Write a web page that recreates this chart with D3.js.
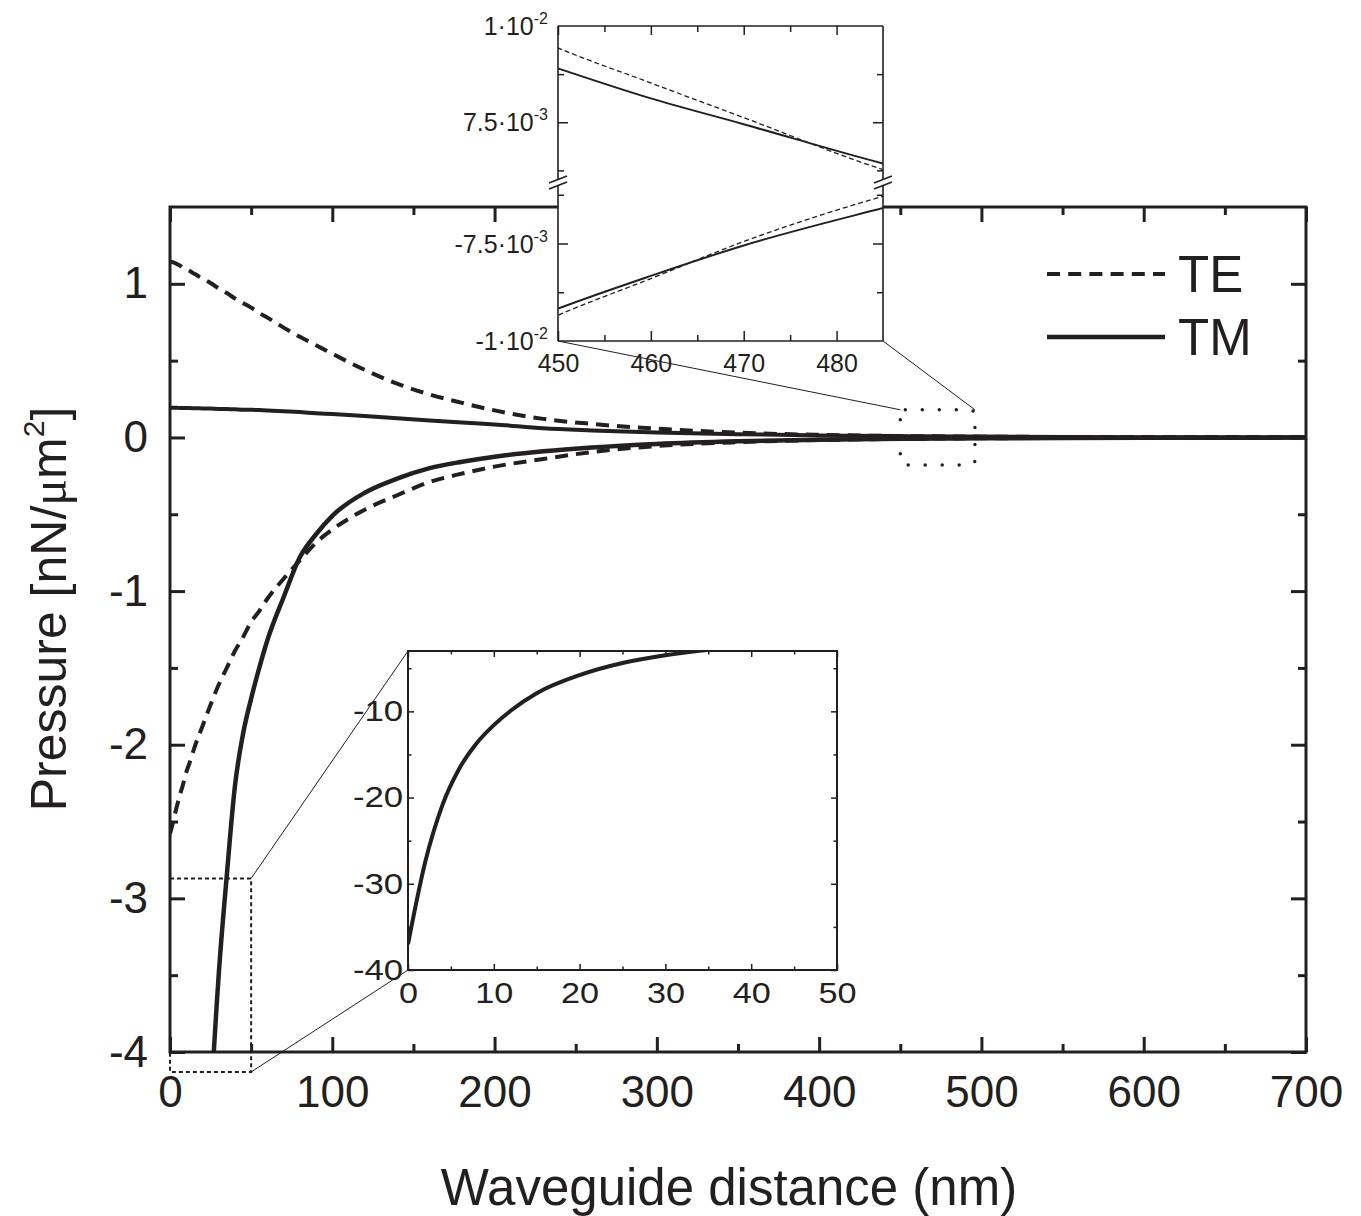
<!DOCTYPE html>
<html>
<head>
<meta charset="utf-8">
<script src="https://cdn.jsdelivr.net/npm/d3@7"></script>
<style>
    body { margin: 0; background: #fff; }
    svg { display: block; }
</style>
</head>
<body>
<svg id="chart" width="1361" height="1216"></svg>
<script>
// waveguide distance (nm) and pressure values (nN/um^2)
var distance = [0, 2, 4, 6, 8, 10, 12, 15, 20, 25, 30, 35, 40, 45, 50, 55, 60, 70, 80, 90,
    100, 120, 140, 160, 180, 200, 230, 260, 300, 350, 400, 450, 460, 470, 485, 500, 550, 600, 700];
var tePositive = [1.145, 1.14, 1.13, 1.12, 1.105, 1.095, 1.085, 1.065, 1.035, 1.005, 0.97, 0.94, 0.905, 0.875, 0.845, 0.81, 0.78, 0.715, 0.655, 0.6,
    0.545, 0.44, 0.35, 0.28, 0.225, 0.176, 0.121, 0.088, 0.057, 0.031, 0.017, 0.00943, 0.00852, 0.00762, 0.00627, 0.0053, 0.003, 0.0017, 0.0005];
var tmPositive = [0.193, 0.193, 0.193, 0.192, 0.192, 0.191, 0.191, 0.19, 0.189, 0.188, 0.186, 0.185, 0.183, 0.181, 0.18, 0.178, 0.176, 0.171, 0.165, 0.158,
    0.152, 0.139, 0.125, 0.11, 0.097, 0.085, 0.06, 0.046, 0.032, 0.021, 0.0135, 0.0089, 0.00812, 0.00745, 0.00643, 0.0056, 0.0034, 0.0021, 0.0008];
var teNegative = [-2.58, -2.5, -2.41, -2.33, -2.26, -2.18, -2.12, -2.02, -1.88, -1.74, -1.61, -1.5, -1.39, -1.3, -1.2, -1.13, -1.05, -0.92, -0.8, -0.685,
    -0.6, -0.47, -0.376, -0.29, -0.235, -0.19, -0.14, -0.095, -0.056, -0.031, -0.017, -0.00934, -0.0084, -0.00745, -0.00629, -0.0054, -0.003, -0.0017, -0.0005];
var tmNegative = [-37, -27.5, -20.9, -16.6, -13.7, -11.6, -9.9, -7.9, -5.8, -4.4, -3.5, -2.85, -2.27, -1.93, -1.7, -1.5, -1.32, -1.04, -0.78, -0.63,
    -0.51, -0.36, -0.268, -0.2, -0.158, -0.125, -0.09, -0.065, -0.042, -0.025, -0.0153, -0.00917, -0.00833, -0.00755, -0.00659, -0.0057, -0.0035, -0.0022, -0.0009];

var mainXTicks = [0, 100, 200, 300, 400, 500, 600, 700];
var mainXMinor = [50, 150, 250, 350, 450, 550, 650];
var mainYTicks = [-4, -3, -2, -1, 0, 1];
var mainYMinor = [-3.5, -2.5, -1.5, -0.5, 0.5];

var zoomXTicks = [450, 460, 470, 480];
var zoomXMinor = [455, 465, 475];
var zoomYValues = [0.01, 0.0075, -0.0075, -0.01];
var zoomYMantissa = ["1·10", "7.5·10", "-7.5·10", "-1·10"];
var zoomYExponent = ["-2", "-3", "-3", "-2"];

var nearXTicks = [0, 10, 20, 30, 40, 50];
var nearXMinor = [5, 15, 25, 35, 45];
var nearYTicks = [-40, -30, -20, -10];
var nearYMinor = [-35, -25, -15, -5];

var legendLabels = ["TE", "TM"];

var ink = "#231f20";
var font = "'Liberation Sans', Arial, Helvetica, sans-serif";
var svg = d3.select("#chart");

var rows = distance.map(function(d, i) {
    return { d: d, teP: tePositive[i], tmP: tmPositive[i], teN: teNegative[i], tmN: tmNegative[i] };
});

function clip(id, x0, y0, x1, y1) {
    svg.append("clipPath").attr("id", id).append("rect")
        .attr("x", x0).attr("y", y0).attr("width", x1 - x0).attr("height", y1 - y0);
    return "url(#" + id + ")";
}

function curve(g, xs, ys, key, width, dash) {
    var line = d3.line().x(function(r) { return xs(r.d); }).y(function(r) { return ys(r[key]); })
        .curve(d3.curveMonotoneX);
    return g.append("path").datum(rows).attr("d", line)
        .attr("fill", "none").attr("stroke", ink).attr("stroke-width", width)
        .attr("stroke-dasharray", dash || null);
}

// inward ticks; labels only when a format is given
function ticks(g, axis, pos, values, size, width, fmt, fontSize, pad) {
    var a = g.append("g").attr("transform", pos).attr("color", ink)
        .call(axis.tickValues(values).tickSize(-size).tickSizeOuter(0)
            .tickPadding(pad || 0).tickFormat(fmt || ""));
    a.select(".domain").remove();
    a.selectAll(".tick line").attr("stroke-width", width);
    a.selectAll(".tick text").attr("font-size", fontSize || 10).attr("font-family", font).attr("fill", ink);
    return a;
}

function connector(x1, y1, x2, y2) {
    svg.append("line").attr("x1", x1).attr("y1", y1).attr("x2", x2).attr("y2", y2)
        .attr("stroke", ink).attr("stroke-width", 1);
}

// ---------- main plot ----------
var x = d3.scaleLinear().domain([0, 700]).range([170, 1306]);
var y = d3.scaleLinear().domain([-4, 1.5]).range([1052, 207]);
var L = x.range()[0], R = x.range()[1], B = y.range()[0], T = y.range()[1];

var main = svg.append("g").attr("clip-path", clip("clipMain", L, T, R, B));
curve(main, x, y, "teP", 4, "13,8");
curve(main, x, y, "teN", 4, "13,8");
curve(main, x, y, "tmP", 4);
curve(main, x, y, "tmN", 4.5);

// zoom markers
var nearBox = { x0: x(0), x1: x(50), y0: y(-2.87), y1: y(-4.13) };
svg.append("rect").attr("x", nearBox.x0).attr("y", nearBox.y0)
    .attr("width", nearBox.x1 - nearBox.x0).attr("height", nearBox.y1 - nearBox.y0)
    .attr("fill", "none").attr("stroke", ink).attr("stroke-width", 2).attr("stroke-dasharray", "4,3");

var farBox = { x0: x(450), x1: x(496), y0: y(0.18), y1: y(-0.18) };
svg.append("rect").attr("x", farBox.x0).attr("y", farBox.y0)
    .attr("width", farBox.x1 - farBox.x0).attr("height", farBox.y1 - farBox.y0)
    .attr("rx", 5)
    .attr("fill", "none").attr("stroke", ink).attr("stroke-width", 3.5)
    .attr("stroke-linecap", "round").attr("stroke-dasharray", "0,17");

ticks(svg, d3.axisBottom(x), "translate(0," + B + ")", mainXTicks, 15, 3, function(d) { return String(d); }, 44, 24);
ticks(svg, d3.axisBottom(x), "translate(0," + B + ")", mainXMinor, 8, 3);
ticks(svg, d3.axisTop(x), "translate(0," + T + ")", mainXTicks, 15, 3);
ticks(svg, d3.axisTop(x), "translate(0," + T + ")", mainXMinor, 8, 3);
ticks(svg, d3.axisLeft(y), "translate(" + L + ",0)", mainYTicks, 15, 3, function(d) { return String(d); }, 44, 22);
ticks(svg, d3.axisLeft(y), "translate(" + L + ",0)", mainYMinor, 8, 3);
ticks(svg, d3.axisRight(y), "translate(" + R + ",0)", mainYTicks, 15, 3);
ticks(svg, d3.axisRight(y), "translate(" + R + ",0)", mainYMinor, 8, 3);

svg.append("rect").attr("x", L).attr("y", T).attr("width", R - L).attr("height", B - T)
    .attr("fill", "none").attr("stroke", ink).attr("stroke-width", 3);

svg.append("text").attr("x", 729).attr("y", 1205).attr("text-anchor", "middle")
    .attr("font-family", font).attr("font-size", 51).attr("fill", ink)
    .text("Waveguide distance (nm)");

var yTitle = svg.append("text").attr("transform", "translate(66,609) rotate(-90)")
    .attr("text-anchor", "middle").attr("font-family", font).attr("font-size", 50).attr("fill", ink);
yTitle.append("tspan").text("Pressure [nN/");
yTitle.append("tspan").attr("font-family", "'Liberation Serif', 'DejaVu Serif', serif").text("μ");
yTitle.append("tspan").text("m");
yTitle.append("tspan").attr("font-size", 30).attr("dy", -22).text("2");
yTitle.append("tspan").attr("dy", 22).text("]");

// legend
var legendY = d3.scalePoint().domain(legendLabels).range([274, 337]);
var legend = svg.append("g");
legendLabels.forEach(function(lbl, i) {
    legend.append("line").attr("x1", 1047).attr("x2", 1165)
        .attr("y1", legendY(lbl)).attr("y2", legendY(lbl))
        .attr("stroke", ink).attr("stroke-width", i === 0 ? 4 : 4.5)
        .attr("stroke-dasharray", i === 0 ? "13,8.2" : null);
    legend.append("text").attr("x", 1178).attr("y", legendY(lbl) + 18)
        .attr("font-family", font).attr("font-size", 51).attr("fill", ink).text(lbl);
});

// ---------- upper inset: 450-485 nm, broken y axis ----------
var tx = d3.scaleLinear().domain([450, 485]).range([558, 883]);
var tyUp = d3.scaleLinear().domain([0.006, 0.01]).range([180, 26]);
var tyLo = d3.scaleLinear().domain([-0.01, -0.006]).range([341, 185]);
var tL = tx.range()[0], tR = tx.range()[1], tT = tyUp.range()[1], tB = tyLo.range()[0];
var brkA = tyUp.range()[0], brkB = tyLo.range()[1];

connector(tL, tB, farBox.x0, farBox.y0);
connector(tR, tB, farBox.x1, farBox.y0);

svg.append("rect").attr("x", tL).attr("y", tT).attr("width", tR - tL).attr("height", tB - tT).attr("fill", "#fff");

var up = svg.append("g").attr("clip-path", clip("clipUp", tL, tT, tR, brkA));
curve(up, tx, tyUp, "teP", 1.3, "5,3");
curve(up, tx, tyUp, "tmP", 2);
var lo = svg.append("g").attr("clip-path", clip("clipLo", tL, brkB, tR, tB));
curve(lo, tx, tyLo, "teN", 1.3, "5,3");
curve(lo, tx, tyLo, "tmN", 2);

ticks(svg, d3.axisBottom(tx), "translate(0," + tB + ")", zoomXTicks, 10, 1.5, function(d) { return String(d); }, 25, 13);
ticks(svg, d3.axisBottom(tx), "translate(0," + tB + ")", zoomXMinor, 6, 1.5);
ticks(svg, d3.axisTop(tx), "translate(0," + tT + ")", zoomXTicks, 9, 1.5);
ticks(svg, d3.axisTop(tx), "translate(0," + tT + ")", zoomXMinor, 6, 1.5);
[[d3.axisLeft, tL], [d3.axisRight, tR]].forEach(function(side) {
    ticks(svg, side[0](tyUp), "translate(" + side[1] + ",0)", [0.0075], 10, 1.5);
    ticks(svg, side[0](tyUp), "translate(" + side[1] + ",0)", [0.00875, 0.00625], 6, 1.5);
    ticks(svg, side[0](tyLo), "translate(" + side[1] + ",0)", [-0.0075], 10, 1.5);
    ticks(svg, side[0](tyLo), "translate(" + side[1] + ",0)", [-0.00875, -0.00625], 6, 1.5);
});

var frame = svg.append("g").attr("stroke", ink).attr("stroke-width", 1.6).attr("fill", "none");
frame.append("line").attr("x1", tL).attr("x2", tR).attr("y1", tT).attr("y2", tT);
frame.append("line").attr("x1", tL).attr("x2", tR).attr("y1", tB).attr("y2", tB);
[tL, tR].forEach(function(xx) {
    frame.append("line").attr("x1", xx).attr("x2", xx).attr("y1", tT).attr("y2", brkA - 1);
    frame.append("line").attr("x1", xx).attr("x2", xx).attr("y1", brkB + 1).attr("y2", tB);
    frame.append("line").attr("x1", xx - 9).attr("y1", brkA + 3).attr("x2", xx + 9).attr("y2", brkA - 4);
    frame.append("line").attr("x1", xx - 9).attr("y1", brkB + 4).attr("x2", xx + 9).attr("y2", brkB - 3);
});

zoomYValues.forEach(function(v, i) {
    var ys = v > 0 ? tyUp : tyLo;
    var t = svg.append("text").attr("x", tL - 10).attr("y", ys(v)).attr("dy", "0.36em")
        .attr("text-anchor", "end").attr("font-family", font).attr("font-size", 25).attr("fill", ink);
    t.append("tspan").text(zoomYMantissa[i]);
    t.append("tspan").attr("font-size", 16).attr("dy", -11).text(zoomYExponent[i]);
});

// ---------- lower inset: 0-50 nm ----------
var bx = d3.scaleLinear().domain([0, 50]).range([408, 837]);
var by = d3.scaleLinear().domain([-40, -3]).range([970, 651]);
var bL = bx.range()[0], bR = bx.range()[1], bT = by.range()[1], bB = by.range()[0];

connector(bL, bT, nearBox.x1, nearBox.y0);
connector(bL, bB, nearBox.x1, nearBox.y1);

svg.append("rect").attr("x", bL).attr("y", bT).attr("width", bR - bL).attr("height", bB - bT).attr("fill", "#fff");
var near = svg.append("g").attr("clip-path", clip("clipNear", bL, bT, bR, bB));
curve(near, bx, by, "tmN", 4);

// the inset labels in the figure are set wider than the font
ticks(svg, d3.axisBottom(bx), "translate(0," + bB + ")", nearXTicks, 6, 1.5, function(d) { return String(d); }, 29, 12)
    .selectAll(".tick text").attr("transform", "scale(1.18,1)");
ticks(svg, d3.axisBottom(bx), "translate(0," + bB + ")", nearXMinor, 3.5, 1.5);
ticks(svg, d3.axisTop(bx), "translate(0," + bT + ")", nearXTicks, 6, 1.5);
ticks(svg, d3.axisTop(bx), "translate(0," + bT + ")", nearXMinor, 3.5, 1.5);
ticks(svg, d3.axisLeft(by), "translate(" + bL + ",0)", nearYTicks, 6, 1.5, function(d) { return String(d); }, 29, 4)
    .selectAll(".tick text").attr("transform", "scale(1.2,1)");
ticks(svg, d3.axisLeft(by), "translate(" + bL + ",0)", nearYMinor, 3.5, 1.5);
ticks(svg, d3.axisRight(by), "translate(" + bR + ",0)", nearYTicks, 6, 1.5);
ticks(svg, d3.axisRight(by), "translate(" + bR + ",0)", nearYMinor, 3.5, 1.5);

svg.append("rect").attr("x", bL).attr("y", bT).attr("width", bR - bL).attr("height", bB - bT)
    .attr("fill", "none").attr("stroke", ink).attr("stroke-width", 2);
</script>
</body>
</html>
